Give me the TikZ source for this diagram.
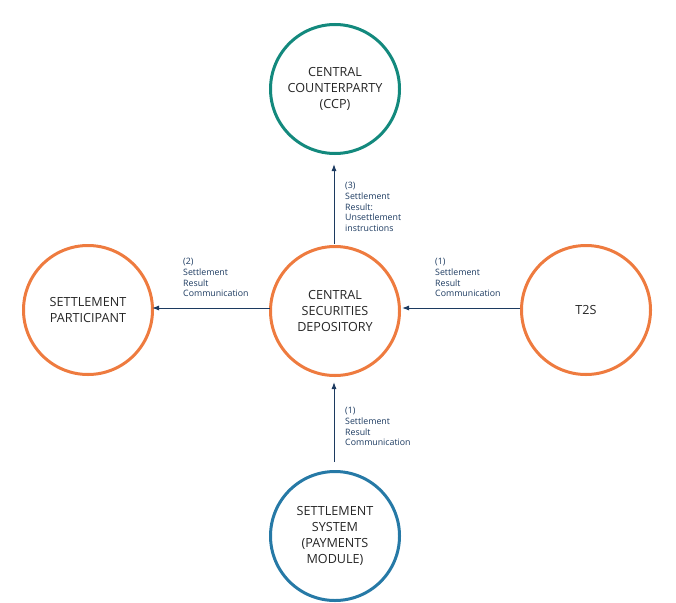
\documentclass[tikz,border=0pt]{standalone}
\usepackage{fontspec}
\setmainfont{Open Sans}
\usetikzlibrary{arrows.meta}
\definecolor{teal1}{HTML}{13897D}
\definecolor{orng}{HTML}{EE7B3F}
\definecolor{blu}{HTML}{2679A6}
\definecolor{navy}{HTML}{1C3A60}
\begin{document}
\begin{tikzpicture}[x=1pt,y=-1pt,
  ent/.style={circle,draw,line width=3pt,minimum size=129pt,inner sep=0pt,align=center,
    font=\fontsize{12.6}{16}\selectfont,text=black!85},
  flow/.style={draw=navy,line width=1pt,-{Latex[length=7pt,width=5pt]}},
  lbl/.style={align=left,text=navy,font=\fontsize{8.8}{10.8}\selectfont,inner sep=0pt}]
\useasboundingbox (0,0) rectangle (676,602);
\node[ent,draw=teal1] (ccp) at (335,89) {CENTRAL\\COUNTERPARTY\\(CCP)};
\node[ent,draw=orng] (csd) at (335,311) {CENTRAL\\SECURITIES\\DEPOSITORY};
\node[ent,draw=orng] (sp) at (88,310) {SETTLEMENT\\PARTICIPANT};
\node[ent,draw=orng] (t2s) at (586,310) {T2S};
\node[ent,draw=blu] (ss) at (335,536) {SETTLEMENT\\SYSTEM\\(PAYMENTS\\MODULE)};
\coordinate (a1) at (334,244); \coordinate (a1e) at (334,164);
\coordinate (a2) at (270,308); \coordinate (a2e) at (152,308);
\coordinate (a3) at (520,308); \coordinate (a3e) at (402,308);
\coordinate (a4) at (334,462); \coordinate (a4e) at (334,382);
\draw[flow] (a1) -- (a1e);
\draw[flow] (a2) -- (a2e);
\draw[flow] (a3) -- (a3e);
\draw[flow] (a4) -- (a4e);
\node[lbl,anchor=north west] (l1) at (345,182) {(3)\\Settlement\\Result:\\Unsettlement\\instructions};
\node[lbl,anchor=north west] (l2) at (183,258) {(2)\\Settlement\\Result\\Communication};
\node[lbl,anchor=north west] (l3) at (435,258) {(1)\\Settlement\\Result\\Communication};
\node[lbl,anchor=north west] (l4) at (345,407) {(1)\\Settlement\\Result\\Communication};
\end{tikzpicture}
\end{document}
